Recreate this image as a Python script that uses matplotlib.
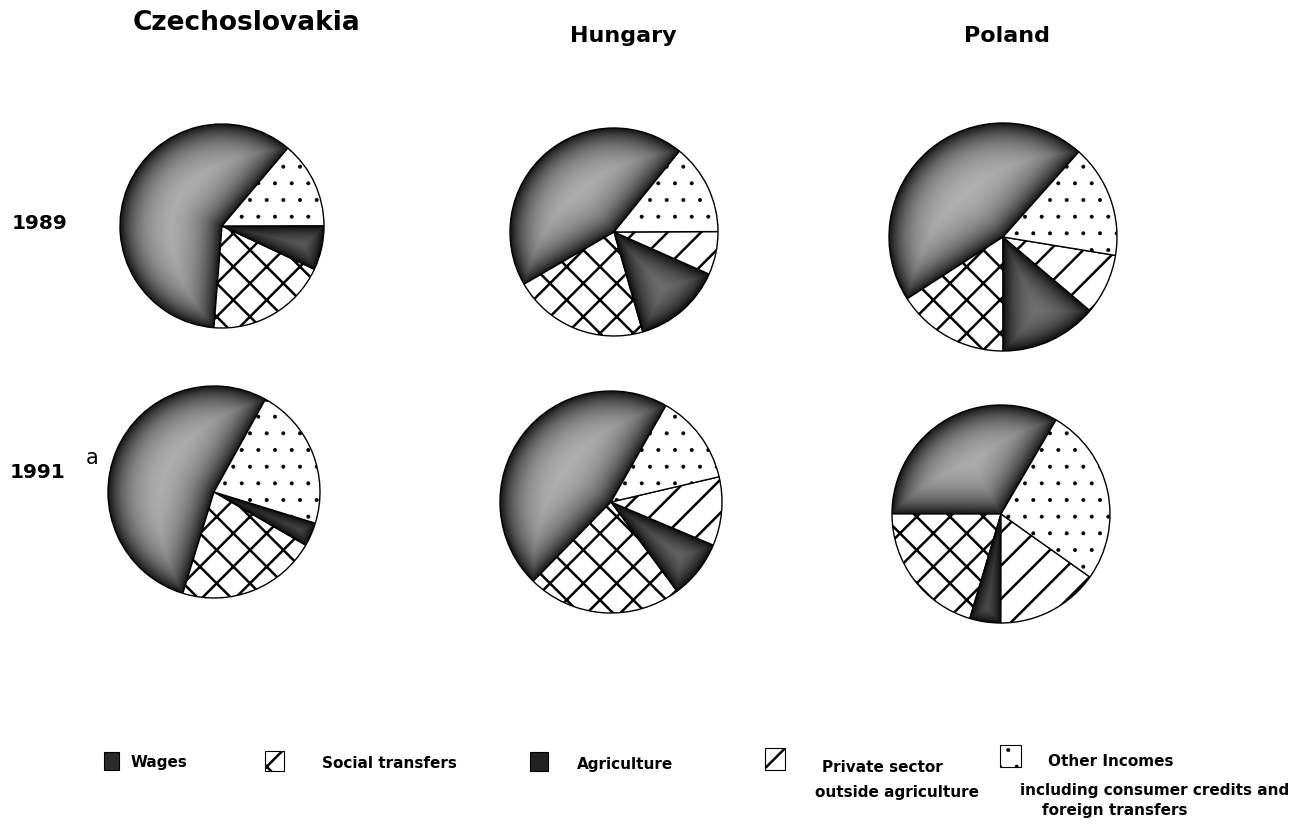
import numpy as np
import matplotlib
matplotlib.use("Agg")
import matplotlib.pyplot as plt
from matplotlib.patches import Rectangle

W, H = 1316, 824

# data (shares in %)
categories = ["Wages", "Social transfers", "Agriculture",
              "Private sector\noutside agriculture", "Other Incomes"]
countries = ["Czechoslovakia", "Hungary", "Poland"]
years = ["1989", "1991"]

czech_1989 = [59.9, 19.3, 7.0, 0.0, 13.8]
hungary_1989 = [44.2, 21.1, 13.9, 6.7, 14.1]
poland_1989 = [45.7, 15.9, 13.8, 8.6, 16.0]
czech_1991 = [53.3, 21.4, 3.6, 0.0, 21.7]
hungary_1991 = [45.9, 22.5, 8.5, 10.0, 13.1]
poland_1991 = [33.4, 20.4, 4.6, 15.2, 26.4]

# angle where the wages slice starts, and pie radius in pixels
start_angles = [49.8, 51.0, 48.3, 61.0, 60.3, 59.7]
pie_radius_px = [102, 104, 114, 106, 111, 109]

# pie centres in pixels (x, y from top)
centres = [(222, 226), (614, 232), (1003, 237),
           (214, 492), (611, 502), (1001, 514)]

all_values = [czech_1989, hungary_1989, poland_1989,
              czech_1991, hungary_1991, poland_1991]

hatches = [None, "x", None, "/", "."]
plt.rcParams["hatch.linewidth"] = 1.8


def thin_hatch(p, lw):
    if hasattr(p, "set_hatch_linewidth"):
        p.set_hatch_linewidth(lw)
    else:
        p._hatch_linewidth = lw


def shade(ax, w, lo, hi, width):
    # stipple-like gradient: dark along the wedge border, lighter inside
    xs = np.linspace(-1.2, 1.2, 500)
    X, Y = np.meshgrid(xs, xs)
    rho = np.hypot(X, Y)
    phi = np.degrees(np.arctan2(Y, X))
    d1 = (phi - w.theta1) % 360
    d2 = (w.theta2 - phi) % 360

    def edge(d):
        return np.where(d < 90, rho * np.sin(np.radians(d)), rho)

    dist = np.minimum(w.r - rho, np.minimum(edge(d1), edge(d2)))
    dist = np.clip(dist, 0, None)
    g = lo + (hi - lo) * (1 - np.exp(-dist / width))
    im = ax.imshow(g, cmap="gray", vmin=0, vmax=1, origin="lower",
                   extent=(-1.2, 1.2, -1.2, 1.2), zorder=0.5,
                   interpolation="bilinear")
    im.set_clip_path(w)


fig = plt.figure(figsize=(W / 100, H / 100), dpi=100)

# overlay in pixel units for texts and legend
ov = fig.add_axes([0, 0, 1, 1])
ov.set_xlim(0, W)
ov.set_ylim(H, 0)
ov.axis("off")

S = 260
unit = S / 2.4
for vals, (cx, cy), start, rpx in zip(all_values, centres, start_angles, pie_radius_px):
    ax = fig.add_axes([(cx - S / 2) / W, 1 - (cy + S / 2) / H, S / W, S / H])
    wedges, _ = ax.pie(vals, startangle=start, counterclock=True,
                       radius=rpx / unit,
                       colors=["none", "white", "none", "white", "white"],
                       hatch=hatches,
                       wedgeprops=dict(edgecolor="black", linewidth=1.0))
    thin_hatch(wedges[4], 0.4)
    shade(ax, wedges[0], 0.08, 0.74, 0.2)
    shade(ax, wedges[2], 0.05, 0.5, 0.15)
    ax.set_xlim(-1.2, 1.2)
    ax.set_ylim(-1.2, 1.2)
    ax.set_aspect("equal")
    ax.axis("off")

# column titles
ov.text(246, 30, countries[0], fontsize=19, fontweight="bold", ha="center", va="baseline")
ov.text(623, 42, countries[1], fontsize=16, fontweight="bold", ha="center", va="baseline")
ov.text(1007, 42, countries[2], fontsize=16, fontweight="bold", ha="center", va="baseline")

# row labels
ov.text(12, 229, years[0], fontsize=14.5, fontweight="bold", ha="left", va="baseline")
ov.text(10, 478, years[1], fontsize=14.5, fontweight="bold", ha="left", va="baseline")
ov.text(86, 464, "a", fontsize=15, ha="left", va="baseline")

# legend
sw = dict(edgecolor="black", linewidth=0.8)
ov.add_patch(Rectangle((104, 752), 15, 18, facecolor="#2a2a2a", **sw))
ov.add_patch(Rectangle((265, 751), 19, 20, facecolor="white", hatch="x", **sw))
ov.add_patch(Rectangle((530, 752), 18, 19, facecolor="#222222", **sw))
ov.add_patch(Rectangle((765, 748), 20, 22, facecolor="white", hatch="/", **sw))
other_sw = Rectangle((1000, 745), 21, 22, facecolor="white", hatch=".", **sw)
thin_hatch(other_sw, 0.4)
ov.add_patch(other_sw)

lf = dict(fontsize=11, fontweight="bold", va="center", ha="left")
ov.text(131, 763, categories[0], **lf)
ov.text(322, 763, categories[1], **lf)
ov.text(577, 765, categories[2], **lf)
ov.text(822, 767, "Private sector", **lf)
ov.text(815, 792, "outside agriculture", **lf)
ov.text(1048, 762, categories[4], **lf)
ov.text(1020, 791, "including consumer credits and", **lf)
ov.text(1042, 811, "foreign transfers", **lf)

fig.savefig("out.png", dpi=100, facecolor="white")
